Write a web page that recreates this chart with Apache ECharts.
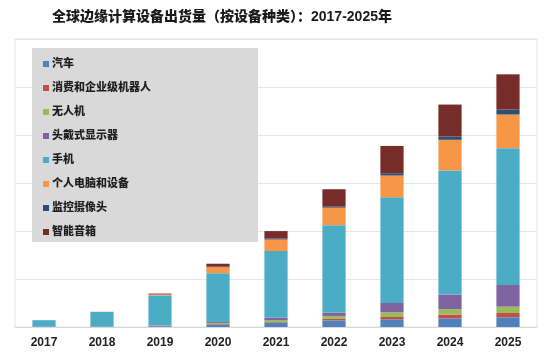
<!DOCTYPE html>
<html>
<head>
<meta charset="utf-8">
<script src="https://cdn.jsdelivr.net/npm/echarts@6/dist/echarts.min.js"></script>
<style>
  html, body { margin: 0; padding: 0; background: #fff; }
  #chart { width: 546px; height: 354px; }
</style>
</head>
<body>
<div id="chart"></div>
<script>
// 年份
var years = ['2017', '2018', '2019', '2020', '2021', '2022', '2023', '2024', '2025'];
// 各设备种类出货量（从图上估读，无刻度单位）
var car = [0.3, 0.5, 0.8, 2.6, 4.7, 6.8, 8.0, 8.8, 10.1];
var robot = [0, 0, 0.2, 0.5, 0.5, 1.6, 2.4, 4.2, 4.5];
var drone = [0, 0, 0.3, 1.0, 2.1, 3.1, 4.9, 5.5, 6.6];
var hmd = [0, 0, 0.3, 1.0, 2.6, 3.6, 9.7, 15.3, 22.6];
var phone = [6.8, 15.1, 31.2, 51.0, 69.2, 91.0, 110.2, 129.3, 142.5];
var pc = [0, 0.3, 1.0, 6.2, 12.0, 18.2, 22.6, 31.9, 35.0];
var camera = [0, 0, 0.2, 0.5, 1.0, 1.0, 2.4, 3.4, 5.2];
var speaker = [0, 0, 0.8, 3.1, 7.8, 18.2, 28.4, 33.3, 36.7];

var names = ['汽车', '消费和企业级机器人', '无人机', '头戴式显示器', '手机', '个人电脑和设备', '监控摄像头', '智能音箱'];
var colors = ['#4f81bd', '#c0504d', '#9bbb59', '#8064a2', '#4bacc6', '#f79646', '#2c4d75', '#772c2a'];
var values = [car, robot, drone, hmd, phone, pc, camera, speaker];

var font = 'Liberation Sans, Noto Sans CJK SC, sans-serif';

var series = [];
for (var i = 0; i < names.length; i++) {
  series.push({
    name: names[i],
    type: 'bar',
    stack: 'total',
    barWidth: '40%',
    itemStyle: { color: colors[i] },
    data: values[i]
  });
}

var myChart = echarts.init(document.getElementById('chart'));
myChart.setOption({
  animation: false,
  title: {
    text: '全球边缘计算设备出货量（按设备种类）：2017-2025年',
    left: 47,
    top: 5,
    textStyle: { fontFamily: font, fontSize: 14, fontWeight: 900, color: '#1a1a1a' }
  },
  graphic: [{
    type: 'rect',
    left: 32,
    top: 48,
    z: 5,
    shape: { width: 226, height: 194 },
    style: { fill: '#d9d9d9' }
  }],
  legend: {
    orient: 'vertical',
    left: 38,
    top: 52,
    z: 10,
    icon: 'rect',
    itemWidth: 6,
    itemHeight: 6,
    itemGap: 10,
    textStyle: { fontFamily: font, fontSize: 11, fontWeight: 900, color: '#1e1e1e', lineHeight: 14, padding: [0, 0, 0, -2] },
    data: names
  },
  grid: {
    left: 15,
    right: 9,
    top: 39,
    bottom: 27,
    show: true,
    borderColor: '#e3e3e3',
    borderWidth: 1
  },
  xAxis: {
    type: 'category',
    data: years,
    axisTick: { show: false },
    axisLine: { lineStyle: { color: '#d9d9d9' } },
    axisLabel: { fontFamily: font, fontSize: 12, fontWeight: 'bold', color: '#222', margin: 10 }
  },
  yAxis: {
    type: 'value',
    min: 0,
    max: 300,
    interval: 50,
    axisLabel: { show: false },
    axisLine: { show: false },
    axisTick: { show: false },
    splitLine: { lineStyle: { color: '#e6e6e6' } }
  },
  series: series
});
</script>
</body>
</html>
